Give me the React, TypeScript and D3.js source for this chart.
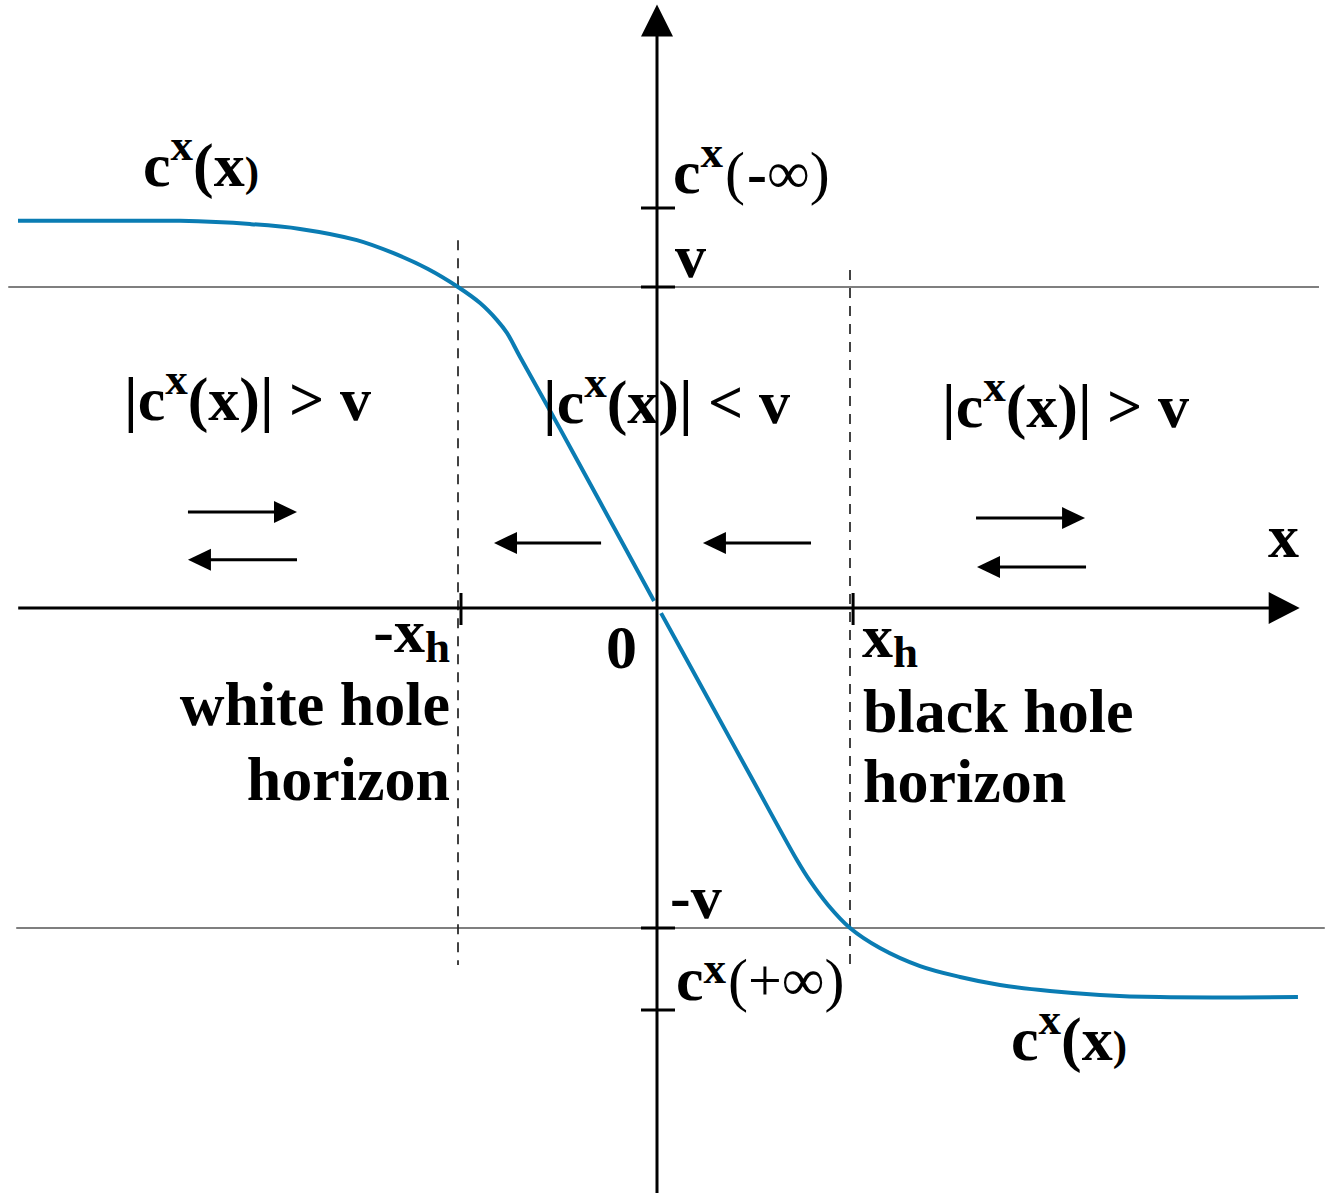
import React from "react";
import * as d3 from "d3";

const W = 1325;
const H = 1193;

// Data units: x in units of the horizon position x_h, y in units of the flow speed v
const xLandmarks = [-1, 0, 1];
const yLandmarks = [-1, 0, 1];

// c^x(x) profile (left branch: x < 0, right branch: x > 0)
const curveLeft: [number, number][] = [
  [-3.211, 1.206], [-2.698, 1.206], [-2.397, 1.206], [-2.045, 1.196], [-1.794, 1.181],
  [-1.508, 1.146], [-1.327, 1.106], [-1.151, 1.056], [-1.0, 1.0], [-0.889, 0.95],
  [-0.804, 0.897], [-0.754, 0.857], [-0.688, 0.782], [-0.487, 0.558], [-0.286, 0.33],
  [-0.015, 0.022],
];
const curveRight: [number, number][] = [
  [0.021, -0.016], [0.223, -0.2375], [0.482, -0.522], [0.725, -0.7875], [0.793, -0.853],
  [0.886, -0.928], [1.0, -1.0], [1.155, -1.0625], [1.363, -1.119], [1.57, -1.153],
  [1.777, -1.178], [2.036, -1.197], [2.295, -1.209], [2.606, -1.216], [3.321, -1.216],
];

const yAxisTicks = [1.246, 1, -1, -1.256];
const xAxisTicks = [-0.985, 1.016];
const speedLevels = [1, -1];
const speedLineExtent: [number, number][] = [[-3.26, 3.43], [-3.22, 3.46]];
const horizons = [-1, 1];
const horizonTop = [1.146, 1.053];
const horizonBottom = -1.116;
const xAxisExtent: [number, number] = [-3.21, 3.33];
const yAxisExtent: [number, number] = [-1.83, 1.88];

const flowArrows = [
  { from: -2.357, to: -1.809, y: 0.299 },
  { from: -1.809, to: -2.357, y: 0.15 },
  { from: -0.281, to: -0.819, y: 0.2025 },
  { from: 0.798, to: 0.238, y: 0.2025 },
  { from: 1.653, to: 2.218, y: 0.28 },
  { from: 2.223, to: 1.658, y: 0.128 },
];

const serif = "'Liberation Serif', 'Times New Roman', Times, serif";
const blue = "#0a7cb3";

export default function App() {
  const x = d3.scaleLinear().domain(xLandmarks).range([458, 657, 850]);
  const y = d3.scaleLinear().domain(yLandmarks).range([928, 608, 287]);
  const line = d3
    .line<[number, number]>()
    .x((d) => x(d[0]))
    .y((d) => y(d[1]))
    .curve(d3.curveCatmullRom.alpha(0.5));

  const x0 = x(0);
  const y0 = y(0);
  const xEnd = x(xAxisExtent[1]);
  const yTop = y(yAxisExtent[1]);

  const arrowHead = (tx: number, ty: number, dir: number, len: number, half: number) =>
    `M${tx},${ty}L${tx - dir * len},${ty - half}L${tx - dir * len},${ty + half}Z`;

  return (
    <svg
      width={W}
      height={H}
      style={{ position: "absolute", left: 0, top: 0, background: "#fff" }}
      fontFamily={serif}
      fontWeight="bold"
    >
      <rect x={0} y={0} width={W} height={H} fill="#fff" />

      {/* speed levels v and -v */}
      {speedLevels.map((lv, i) => (
        <line
          key={"lv" + i}
          x1={x(speedLineExtent[i][0])}
          x2={x(speedLineExtent[i][1])}
          y1={y(lv)}
          y2={y(lv)}
          stroke="#555"
          strokeWidth={1.3}
        />
      ))}

      {/* horizons */}
      {horizons.map((h, i) => (
        <line
          key={"hz" + i}
          x1={x(h)}
          x2={x(h)}
          y1={y(horizonTop[i])}
          y2={y(horizonBottom)}
          stroke="#222"
          strokeWidth={1.7}
          strokeDasharray="10,8"
        />
      ))}

      {/* curve */}
      <path d={line(curveLeft) || ""} fill="none" stroke={blue} strokeWidth={4} />
      <path d={line(curveRight) || ""} fill="none" stroke={blue} strokeWidth={4} />

      {/* axes */}
      <line x1={x(xAxisExtent[0])} x2={xEnd - 28} y1={y0} y2={y0} stroke="#000" strokeWidth={3} />
      <path d={arrowHead(xEnd, y0, 1, 31, 16)} fill="#000" />
      <line x1={x0} x2={x0} y1={y(yAxisExtent[0])} y2={yTop + 28} stroke="#000" strokeWidth={3} />
      <path d={`M${x0},${yTop}L${x0 - 16},${yTop + 32}L${x0 + 16},${yTop + 32}Z`} fill="#000" />

      {yAxisTicks.map((t, i) => (
        <line key={"yt" + i} x1={x0 - 16} x2={x0 + 18} y1={y(t)} y2={y(t)} stroke="#000" strokeWidth={3} />
      ))}
      {xAxisTicks.map((t, i) => (
        <line key={"xt" + i} x1={x(t)} x2={x(t)} y1={y0 - 15} y2={y0 + 17} stroke="#000" strokeWidth={3} />
      ))}

      {/* flow arrows */}
      {flowArrows.map((a, i) => {
        const dir = a.to > a.from ? 1 : -1;
        const tx = x(a.to);
        const ty = y(a.y);
        return (
          <g key={"fa" + i}>
            <line x1={x(a.from)} x2={tx - dir * 18} y1={ty} y2={ty} stroke="#000" strokeWidth={3} />
            <path d={arrowHead(tx, ty, dir, 23, 11)} fill="#000" />
          </g>
        );
      })}

      {/* labels */}
      <g fill="#000" fontSize={62}>
        <text x={143} y={186}>
          c<tspan fontSize={45} dy={-26}>x</tspan>
          <tspan dy={26}>(x</tspan>
          <tspan fontSize={43}>)</tspan>
        </text>

        <text x={673} y={193}>
          c<tspan fontSize={45} dy={-26}>x</tspan>
          <tspan dy={26} fontWeight="normal" dx={2} fontSize={60}>(</tspan>
          <tspan dx={2} fontSize={60}>-</tspan>
          <tspan fontWeight="normal" fontSize={60}>∞)</tspan>
        </text>
        <text x={675} y={277}>v</text>
        <text x={670} y={918}>-v</text>
        <text x={676} y={1000}>
          c<tspan fontSize={45} dy={-17}>x</tspan>
          <tspan dy={17} fontWeight="normal" dx={2} fontSize={60}>(+∞)</tspan>
        </text>

        <text x={124} y={420}>
          |c<tspan fontSize={45} dy={-26}>x</tspan>
          <tspan dy={26}>{"(x)| > v"}</tspan>
        </text>
        <text x={543} y={423}>
          |c<tspan fontSize={45} dy={-26}>x</tspan>
          <tspan dy={26}>{"(x)| < v"}</tspan>
        </text>
        <text x={942} y={427}>
          |c<tspan fontSize={45} dy={-26}>x</tspan>
          <tspan dy={26}>{"(x)| > v"}</tspan>
        </text>

        <text x={1268} y={557}>x</text>

        <text x={450} y={652} textAnchor="end">
          -x<tspan fontSize={45} dy={10}>h</tspan>
        </text>
        <text x={606} y={668}>0</text>
        <text x={450} y={725} textAnchor="end">white hole</text>
        <text x={450} y={800} textAnchor="end">horizon</text>

        <text x={862} y={657}>
          x<tspan fontSize={45} dy={10}>h</tspan>
        </text>
        <text x={863} y={732}>black hole</text>
        <text x={863} y={802}>horizon</text>

        <text x={1011} y={1060}>
          c<tspan fontSize={45} dy={-26}>x</tspan>
          <tspan dy={26}>(x</tspan>
          <tspan fontSize={43}>)</tspan>
        </text>
      </g>
    </svg>
  );
}
